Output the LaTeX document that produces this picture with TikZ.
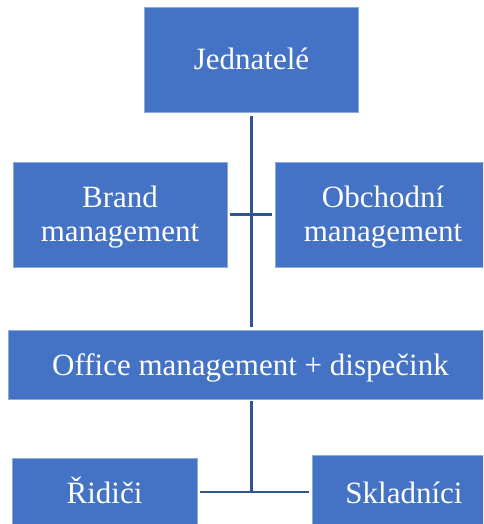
\documentclass[tikz,border=0pt]{standalone}
\usepackage{fontspec}
\setmainfont{Liberation Serif}
\definecolor{boxblue}{HTML}{4472C4}
\definecolor{boxedge}{HTML}{8FAADC}
\definecolor{lineblue}{HTML}{2F5597}
\begin{document}
\begin{tikzpicture}[x=1pt,y=-1pt,
  box/.style={rectangle, fill=boxblue, draw=boxedge, line width=0.8pt,
    text=white, align=center, inner sep=0pt,
    font=\fontsize{31}{34}\selectfont},
  conn/.style={draw=lineblue, line width=2.8pt}]
\clip (0,0) rectangle (483,524);
\fill[white] (0,0) rectangle (483,524);
\node[box, minimum width=214pt, minimum height=105pt, text height=21pt, text depth=1pt] (jed) at (251.5,60) {Jednatelé};
\node[box, minimum width=214pt, minimum height=105pt, text height=59pt, text depth=6pt] (brand) at (120,214.5) {Brand\\management};
\node[box, minimum width=216pt, minimum height=105pt, text height=59pt, text depth=6pt] (obch) at (383,214.5) {Obchodní\\management};
\node[box, minimum width=485pt, minimum height=69pt, text height=22pt, text depth=1pt] (office) at (250.5,364.5) {Office management + dispečink};
\node[box, minimum width=185pt, minimum height=66pt, text height=25pt, text depth=1pt] (rid) at (104.5,491) {Řidiči};
\node[box, minimum width=184pt, minimum height=72pt, text height=25pt, text depth=1pt] (skl) at (404,491) {Skladníci};
\coordinate (j) at (251.5,492);
\draw[conn, shorten <=3pt, shorten >=3pt] (jed.south) -- (jed.south |- office.north);
\draw[conn, shorten <=3pt, shorten >=3pt] (brand.east) -- (obch.west);
\draw[conn, shorten <=2pt] (jed.south |- office.south) -- (j);
\draw[conn, shorten <=3pt, shorten >=3pt] (rid.east |- j) -- (skl.west |- j);
\end{tikzpicture}
\end{document}
